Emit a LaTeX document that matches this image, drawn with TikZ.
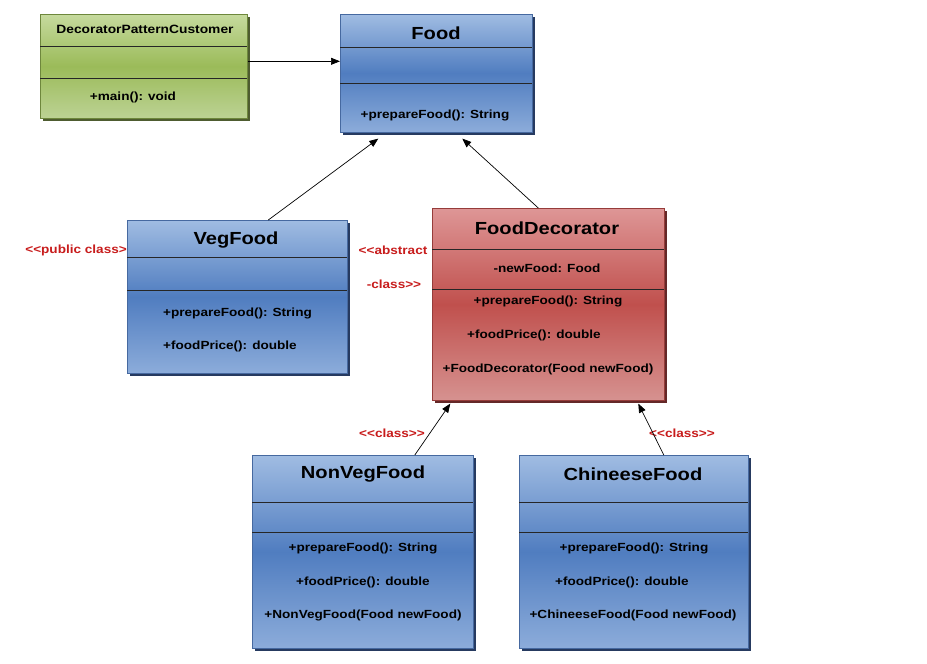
\documentclass[tikz,border=0pt]{standalone}
\usepackage{fontspec}
\setmainfont{Liberation Sans}[FakeStretch=1.15]
\usetikzlibrary{shadows,calc,arrows.meta}
\definecolor{btop}{RGB}{160,188,226}
\definecolor{bmid}{RGB}{80,125,192}
\definecolor{bbot}{RGB}{140,172,218}
\definecolor{bedge}{RGB}{70,105,160}
\definecolor{bshadow}{RGB}{38,58,96}
\definecolor{rtop}{RGB}{222,150,150}
\definecolor{rmid}{RGB}{192,80,77}
\definecolor{rbot}{RGB}{214,146,144}
\definecolor{redge}{RGB}{150,60,58}
\definecolor{rshadow}{RGB}{100,40,40}
\definecolor{gtop}{RGB}{198,218,158}
\definecolor{gmid}{RGB}{155,187,89}
\definecolor{gbot}{RGB}{188,210,148}
\definecolor{gedge}{RGB}{110,135,60}
\definecolor{gshadow}{RGB}{78,92,48}
\definecolor{sred}{RGB}{200,28,28}
\begin{document}
\begin{tikzpicture}[x=1pt,y=-1pt,
  classbox/.style={anchor=north west, inner sep=0pt, line width=0.6pt},
  bluebox/.style={classbox, draw=bedge, top color=btop, bottom color=bbot, middle color=bmid,
    drop shadow={shadow xshift=3pt,shadow yshift=-3pt,fill=bshadow,opacity=1}},
  redbox/.style={classbox, draw=redge, top color=rtop, bottom color=rbot, middle color=rmid,
    drop shadow={shadow xshift=3pt,shadow yshift=-3pt,fill=rshadow,opacity=1}},
  greenbox/.style={classbox, draw=gedge, top color=gtop, bottom color=gbot, middle color=gmid,
    drop shadow={shadow xshift=3pt,shadow yshift=-3pt,fill=gshadow,opacity=1}},
  title/.style={inner sep=0pt, font=\fontsize{17.5}{20}\selectfont\bfseries},
  smalltitle/.style={inner sep=0pt, font=\fontsize{12}{14}\selectfont\bfseries},
  member/.style={inner sep=0pt, font=\fontsize{11.8}{14}\selectfont\bfseries},
  stereo/.style={member, text=sred},
  div/.style={line width=0.8pt, draw=black!85},
  arr/.style={-{Triangle[length=9pt,width=7pt]}, line width=0.7pt}]
\useasboundingbox[fill=white] (0,0) rectangle (927,664);

% boxes
\node[greenbox, minimum width=207pt, minimum height=104pt] (cust) at (40,14) {};
\node[bluebox, minimum width=192pt, minimum height=118pt] (food) at (340,14) {};
\node[bluebox, minimum width=220pt, minimum height=153pt] (veg) at (127,220) {};
\node[redbox, minimum width=232pt, minimum height=192pt] (dec) at (432,208) {};
\node[bluebox, minimum width=221pt, minimum height=193pt] (nonveg) at (252,455) {};
\node[bluebox, minimum width=229pt, minimum height=193pt] (chin) at (519,455) {};

% dividers
\draw[div] (40,46) -- (247,46);  \draw[div] (40,78) -- (247,78);
\draw[div] (340,47) -- (532,47); \draw[div] (340,83) -- (532,83);
\draw[div] (127,257) -- (347,257); \draw[div] (127,290) -- (347,290);
\draw[div] (432,249) -- (664,249); \draw[div] (432,289) -- (664,289);
\draw[div] (252,502) -- (473,502); \draw[div] (252,532) -- (473,532);
\draw[div] (519,502) -- (748,502); \draw[div] (519,532) -- (748,532);

% texts
\node[smalltitle] (custT) at (145,29) {DecoratorPatternCustomer};
\node[member] (custM) at (133,97) {+main(): void};

\node[title] (foodT) at (436,33) {Food};
\node[member] (foodM) at (435,115) {+prepareFood(): String};

\node[title] (vegT) at (236,240) {VegFood};
\node[member, anchor=west] (vegM1) at (163,313) {+prepareFood(): String};
\node[member, anchor=west] (vegM2) at (163,346) {+foodPrice(): double};

\node[title] (decT) at (547,228) {FoodDecorator};
\node[member] (decA) at (547,268) {-newFood: Food};
\node[member] (decM1) at (548,301) {+prepareFood(): String};
\node[member] (decM2) at (534,335) {+foodPrice(): double};
\node[member] (decM3) at (548,369) {+FoodDecorator(Food newFood)};

\node[title] (nvT) at (363,474) {NonVegFood};
\node[member] (nvM1) at (363,548) {+prepareFood(): String};
\node[member] (nvM2) at (363,582) {+foodPrice(): double};
\node[member] (nvM3) at (363,615) {+NonVegFood(Food newFood)};

\node[title] (chT) at (633,474) {ChineeseFood};
\node[member] (chM1) at (634,548) {+prepareFood(): String};
\node[member] (chM2) at (622,582) {+foodPrice(): double};
\node[member] (chM3) at (633,615) {+ChineeseFood(Food newFood)};

% stereotypes
\node[stereo, anchor=east] (s1) at (127,250) {<{}<public class>};
\node[stereo] (s2) at (393,250) {<{}<abstract};
\node[stereo] (s3) at (394,284) {-class>{}>};
\node[stereo] (s4) at (392,433) {<{}<class>{}>};
\node[stereo] (s5) at (682,433) {<{}<class>{}>};

% connectors
\coordinate (a1) at ($(cust.east)+(0,-5)$);
\draw[arr] (a1) -- (food.west |- a1);
\draw[arr] ($(veg.north)+(31,0)$) -- ($(food.south)+(-58,6)$);
\draw[arr] ($(dec.north)+(-10,0)$) -- ($(food.south)+(26,6)$);
\draw[arr] ($(nonveg.north)+(52,0)$) -- ($(dec.south)+(-98,3)$);
\draw[arr] ($(chin.north)+(30,0)$) -- ($(dec.south)+(90,3)$);
\end{tikzpicture}
\end{document}
